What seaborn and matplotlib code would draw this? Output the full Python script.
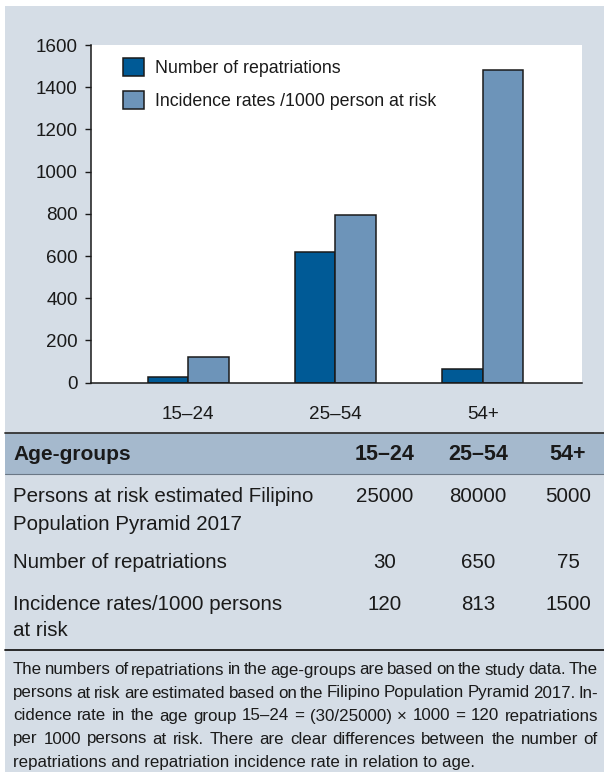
import numpy as np
import pandas as pd
import matplotlib
matplotlib.use("Agg")
import matplotlib.pyplot as plt
from matplotlib.patches import Rectangle
from matplotlib.lines import Line2D
import seaborn as sns

# data
age_groups = ["15–24", "25–54", "54+"]
repatriations = [25, 620, 63]
incidence = [120, 795, 1480]
series_names = ["Number of repatriations", "Incidence rates /1000 person at risk"]
y_ticks = [0, 200, 400, 600, 800, 1000, 1200, 1400, 1600]

# table below the chart
table_header = ["Age-groups", "15–24", "25–54", "54+"]
row_labels = [
    ["Persons at risk estimated Filipino", "Population Pyramid 2017"],
    ["Number of repatriations"],
    ["Incidence rates/1000 persons", "at risk"],
]
row_values = [
    ["25000", "80000", "5000"],
    ["30", "650", "75"],
    ["120", "813", "1500"],
]
footnote_lines = [
    "The numbers of repatriations in the age-groups are based on the study data. The",
    "persons at risk are estimated based on the Filipino Population Pyramid 2017. In-",
    "cidence rate in the age group 15–24 = (30/25000) × 1000 = 120 repatriations",
    "per 1000 persons at risk. There are clear differences between the number of",
    "repatriations and repatriation incidence rate in relation to age.",
]

dark_blue = "#005a96"
light_blue = "#6d94b9"
panel_bg = "#d5dde6"
header_bg = "#a5b9cd"
text_col = "#1a1a1a"

sns.set_style("white")
plt.rcParams["font.family"] = ["Liberation Sans", "DejaVu Sans"]

W, H = 604, 772
fig = plt.figure(figsize=(W / 100, H / 100), dpi=100, facecolor="white")


def fx(x):
    return x / W


def fy(y):
    return 1 - y / H


# light panel behind everything
fig.patches.append(Rectangle((fx(5), 0), 1 - fx(5), fy(6), transform=fig.transFigure,
                             facecolor=panel_bg, edgecolor="none", zorder=-10))

# chart
ax = fig.add_axes([fx(91), fy(382.7), (582 - 91) / W, (382.7 - 45) / H])
df = pd.DataFrame({
    "age": age_groups * 2,
    "value": repatriations + incidence,
    "series": [series_names[0]] * 3 + [series_names[1]] * 3,
})
sns.barplot(data=df, x="age", y="value", hue="series", palette=[dark_blue, light_blue],
            saturation=1, width=0.55, edgecolor="#1a1a1a", linewidth=1.1, ax=ax)

ax.set_facecolor("white")
ax.set_xlim(-0.661, 2.675)
ax.set_ylim(0, 1600)
ax.set_yticks(y_ticks)
ax.set_xlabel("")
ax.set_ylabel("")
for s in ["top", "right"]:
    ax.spines[s].set_visible(False)
for s in ["left", "bottom"]:
    ax.spines[s].set_color("#1a1a1a")
    ax.spines[s].set_linewidth(1.1)
ax.tick_params(axis="y", length=4.2, width=1, color="#1a1a1a", pad=5.5,
               labelsize=13.6, labelcolor=text_col, left=True)
ax.tick_params(axis="x", length=0, pad=17, labelsize=13.6, labelcolor=text_col)

handles, labels = ax.get_legend_handles_labels()
ax.legend(handles, labels, loc="upper left", bbox_to_anchor=(0.065, 0.962),
          frameon=False, fontsize=12.8, handlelength=1.2, handleheight=1.2,
          handletextpad=0.6, labelspacing=0.8, borderpad=0, borderaxespad=0,
          labelcolor=text_col)

# table header band
fig.patches.append(Rectangle((fx(5), fy(474)), 1 - fx(5), (474 - 433) / H,
                             transform=fig.transFigure, facecolor=header_bg,
                             edgecolor="none", zorder=-5))
fig.lines.append(Line2D([fx(5), 1], [fy(433), fy(433)], transform=fig.transFigure,
                        color="#333333", lw=1.3))
fig.lines.append(Line2D([fx(5), 1], [fy(474), fy(474)], transform=fig.transFigure,
                        color="#6a7785", lw=0.8))
fig.lines.append(Line2D([fx(5), 1], [fy(650), fy(650)], transform=fig.transFigure,
                        color="#1a1a1a", lw=1.3))

col_x = [385, 478, 568]
fig.text(fx(13), fy(454), table_header[0], fontsize=15, fontweight="bold",
         color=text_col, va="center", ha="left")
for cx, lab in zip(col_x, table_header[1:]):
    fig.text(fx(cx), fy(454), lab, fontsize=15.5, fontweight="bold",
             color=text_col, va="center", ha="center")

row_y = [[497, 524], [563], [604, 631]]
for labs, vals, ys in zip(row_labels, row_values, row_y):
    for lab, yy in zip(labs, ys):
        fig.text(fx(13), fy(yy), lab, fontsize=14.8, color=text_col, va="center", ha="left")
    for cx, v in zip(col_x, vals):
        fig.text(fx(cx), fy(ys[0]), v, fontsize=14.8, color=text_col, va="center", ha="center")

# footnote, justified like the original (last line ragged)
renderer = fig.canvas.get_renderer()
left_px, right_px = 13, 598
foot_size = 12.2
for i, line in enumerate(footnote_lines):
    y = fy(670 + i * 23)
    if i == len(footnote_lines) - 1:
        fig.text(fx(left_px), y, line, fontsize=foot_size, color=text_col,
                 va="center", ha="left")
        continue
    words = line.split(" ")
    pieces = [fig.text(0, y, w, fontsize=foot_size, color=text_col, va="center", ha="left")
              for w in words]
    widths = [p.get_window_extent(renderer).width for p in pieces]
    gap = (right_px - left_px - sum(widths)) / (len(words) - 1)
    xpos = left_px
    for p, w in zip(pieces, widths):
        p.set_x(fx(xpos))
        xpos += w + gap

fig.savefig("out.png", dpi=100, facecolor="white")
